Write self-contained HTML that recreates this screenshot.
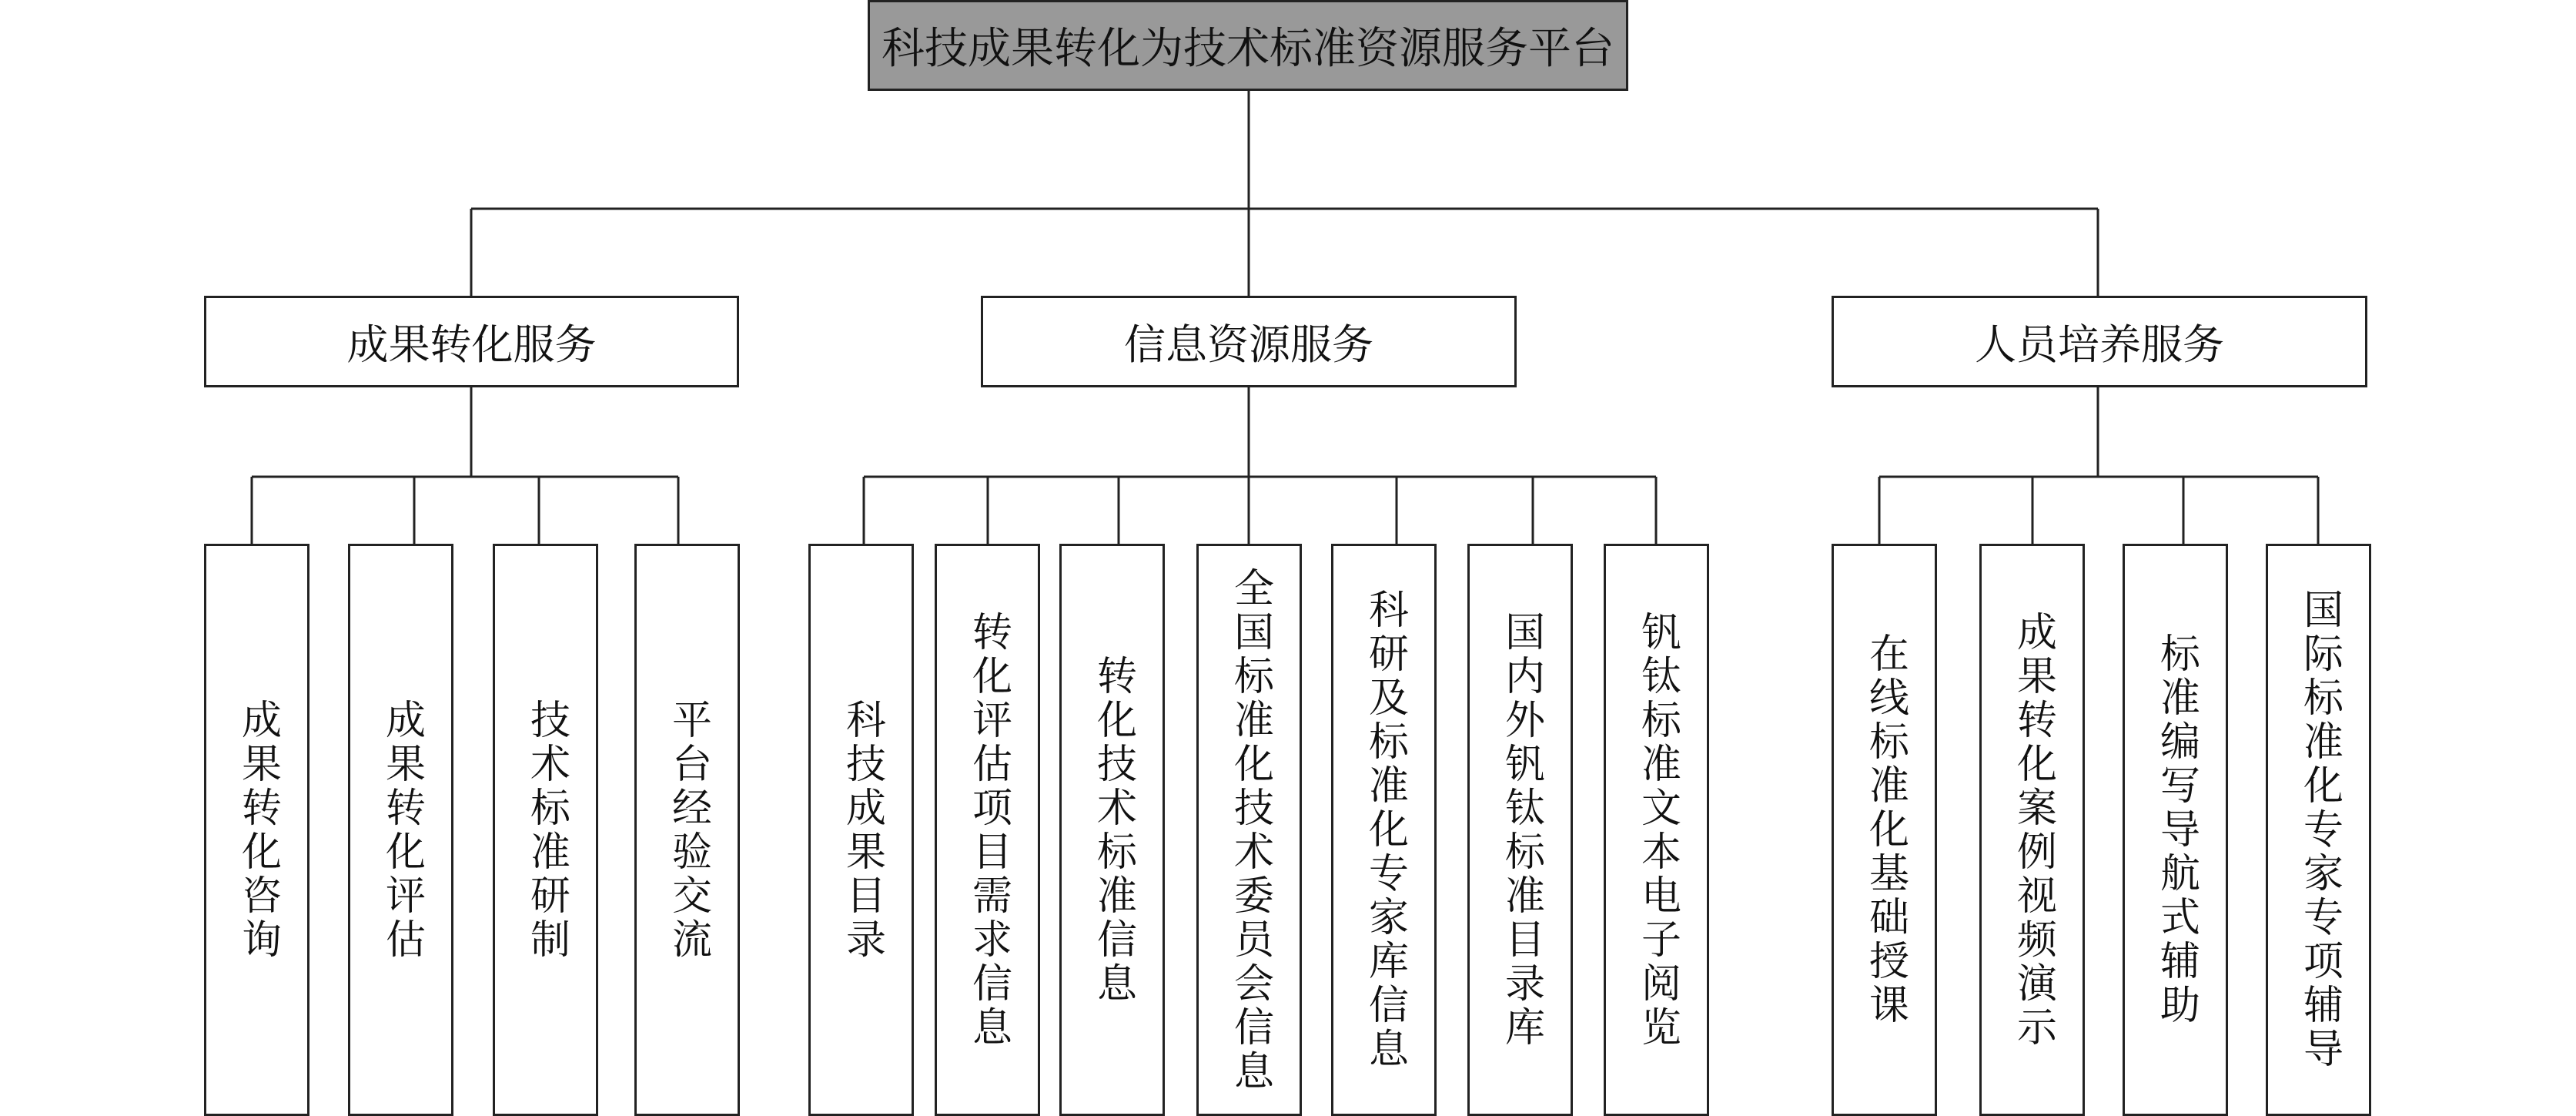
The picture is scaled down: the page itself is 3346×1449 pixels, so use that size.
<!DOCTYPE html>
<html><head><meta charset="utf-8">
<style>
html,body{margin:0;padding:0;background:#fff;}
body{width:3346px;height:1449px;position:relative;overflow:hidden;font-family:"Liberation Serif","Noto Serif CJK SC","Noto Sans CJK SC",serif;color:#111;}
.b{position:absolute;box-sizing:border-box;border:3px solid #222;background:#fff;display:flex;align-items:center;justify-content:center;}
.h{font-size:54px;white-space:nowrap;}
.v{writing-mode:vertical-rl;font-size:52px;letter-spacing:5px;line-height:1;}
svg{position:absolute;left:0;top:0;}
</style></head><body>
<svg width="3346" height="1449" stroke="#222" stroke-width="3" fill="none">
<path d="M1622 117V271M612 271H2725M612 271V384M1622 271V384M2725 271V384"/>
<path d="M612 502V619M327 619H881M327 619V706M538 619V706M700 619V706M881 619V706"/>
<path d="M1622 502V619M1122 619H2151M1122 619V706M1283 619V706M1453 619V706M1622 619V706M1814 619V706M1991 619V706M2151 619V706"/>
<path d="M2725 502V619M2441 619H3011M2441 619V706M2640 619V706M2836 619V706M3011 619V706"/>
</svg>
<div class="b h" style="left:1127px;top:0;width:988px;height:118px;background:#999;font-size:56px;">科技成果转化为技术标准资源服务平台</div>
<div class="b h" style="left:265px;top:384px;width:695px;height:119px;">成果转化服务</div>
<div class="b h" style="left:1274px;top:384px;width:696px;height:119px;">信息资源服务</div>
<div class="b h" style="left:2379px;top:384px;width:696px;height:119px;">人员培养服务</div>

<div class="b" style="left:265px;top:706px;width:137px;height:743px;"><span class="v">成果转化咨询</span></div>
<div class="b" style="left:452px;top:706px;width:137px;height:743px;"><span class="v">成果转化评估</span></div>
<div class="b" style="left:640px;top:706px;width:137px;height:743px;"><span class="v">技术标准研制</span></div>
<div class="b" style="left:824px;top:706px;width:137px;height:743px;"><span class="v">平台经验交流</span></div>

<div class="b" style="left:1050px;top:706px;width:137px;height:743px;"><span class="v">科技成果目录</span></div>
<div class="b" style="left:1214px;top:706px;width:137px;height:743px;"><span class="v">转化评估项目需求信息</span></div>
<div class="b" style="left:1376px;top:706px;width:137px;height:743px;"><span class="v">转化技术标准信息</span></div>
<div class="b" style="left:1554px;top:706px;width:137px;height:743px;"><span class="v">全国标准化技术委员会信息</span></div>
<div class="b" style="left:1729px;top:706px;width:137px;height:743px;"><span class="v">科研及标准化专家库信息</span></div>
<div class="b" style="left:1906px;top:706px;width:137px;height:743px;"><span class="v">国内外钒钛标准目录库</span></div>
<div class="b" style="left:2083px;top:706px;width:137px;height:743px;"><span class="v">钒钛标准文本电子阅览</span></div>

<div class="b" style="left:2379px;top:706px;width:137px;height:743px;"><span class="v">在线标准化基础授课</span></div>
<div class="b" style="left:2571px;top:706px;width:137px;height:743px;"><span class="v">成果转化案例视频演示</span></div>
<div class="b" style="left:2757px;top:706px;width:137px;height:743px;"><span class="v">标准编写导航式辅助</span></div>
<div class="b" style="left:2943px;top:706px;width:137px;height:743px;"><span class="v">国际标准化专家专项辅导</span></div>
</body></html>
